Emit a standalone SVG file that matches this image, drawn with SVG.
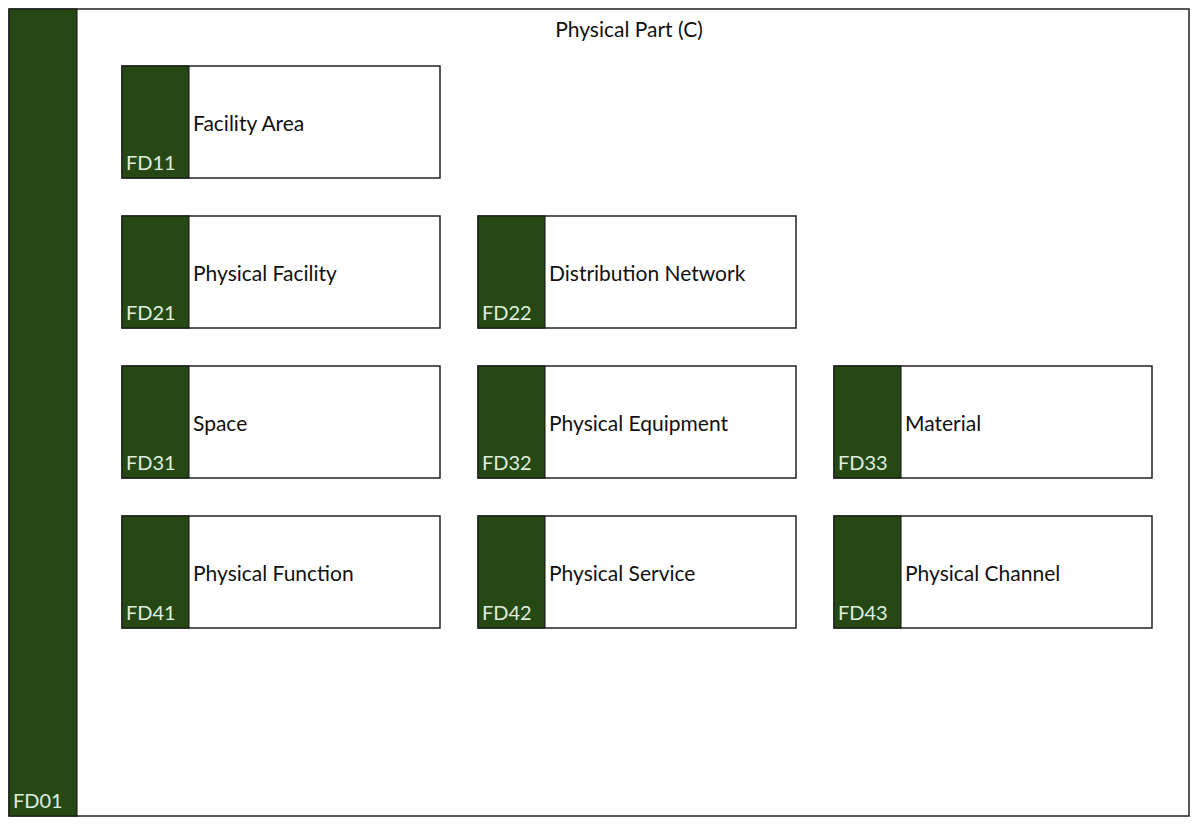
<svg xmlns="http://www.w3.org/2000/svg" width="1200" height="826" viewBox="0 0 1200 826">
<style>
.box{fill:#fff;stroke:#222;stroke-width:1.5}
.bar{fill:#264815;stroke:#111;stroke-width:1}
.code{font-family:Lato,"Open Sans",sans-serif;font-size:20px;fill:#dfeedd}
.name{font-family:Lato,"Open Sans",sans-serif;font-size:21px;fill:#111}
</style>
<rect width="1200" height="826" fill="#fff"/>
<g id="FD01">
<rect class="box" x="9" y="9" width="1180" height="807"/>
<rect class="bar" x="9" y="9" width="68" height="807"/>
<text class="code" x="13" y="808">FD01</text>
<text class="name" x="629" y="37" text-anchor="middle">Physical Part (C)</text>
</g>
<g id="FD11"><rect class="box" x="122" y="66" width="318" height="112"/><rect class="bar" x="122" y="66" width="67" height="112"/><text class="code" x="126" y="170">FD11</text><text class="name" x="193" y="131">Facility Area</text></g>
<g id="FD21"><rect class="box" x="122" y="216" width="318" height="112"/><rect class="bar" x="122" y="216" width="67" height="112"/><text class="code" x="126" y="320">FD21</text><text class="name" x="193" y="281">Physical Facility</text></g>
<g id="FD22"><rect class="box" x="478" y="216" width="318" height="112"/><rect class="bar" x="478" y="216" width="67" height="112"/><text class="code" x="482" y="320">FD22</text><text class="name" x="549" y="281">Distribution Network</text></g>
<g id="FD31"><rect class="box" x="122" y="366" width="318" height="112"/><rect class="bar" x="122" y="366" width="67" height="112"/><text class="code" x="126" y="470">FD31</text><text class="name" x="193" y="431">Space</text></g>
<g id="FD32"><rect class="box" x="478" y="366" width="318" height="112"/><rect class="bar" x="478" y="366" width="67" height="112"/><text class="code" x="482" y="470">FD32</text><text class="name" x="549" y="431">Physical Equipment</text></g>
<g id="FD33"><rect class="box" x="834" y="366" width="318" height="112"/><rect class="bar" x="834" y="366" width="67" height="112"/><text class="code" x="838" y="470">FD33</text><text class="name" x="905" y="431">Material</text></g>
<g id="FD41"><rect class="box" x="122" y="516" width="318" height="112"/><rect class="bar" x="122" y="516" width="67" height="112"/><text class="code" x="126" y="620">FD41</text><text class="name" x="193" y="581">Physical Function</text></g>
<g id="FD42"><rect class="box" x="478" y="516" width="318" height="112"/><rect class="bar" x="478" y="516" width="67" height="112"/><text class="code" x="482" y="620">FD42</text><text class="name" x="549" y="581">Physical Service</text></g>
<g id="FD43"><rect class="box" x="834" y="516" width="318" height="112"/><rect class="bar" x="834" y="516" width="67" height="112"/><text class="code" x="838" y="620">FD43</text><text class="name" x="905" y="581">Physical Channel</text></g>
<g id="connectors"/>
</svg>
